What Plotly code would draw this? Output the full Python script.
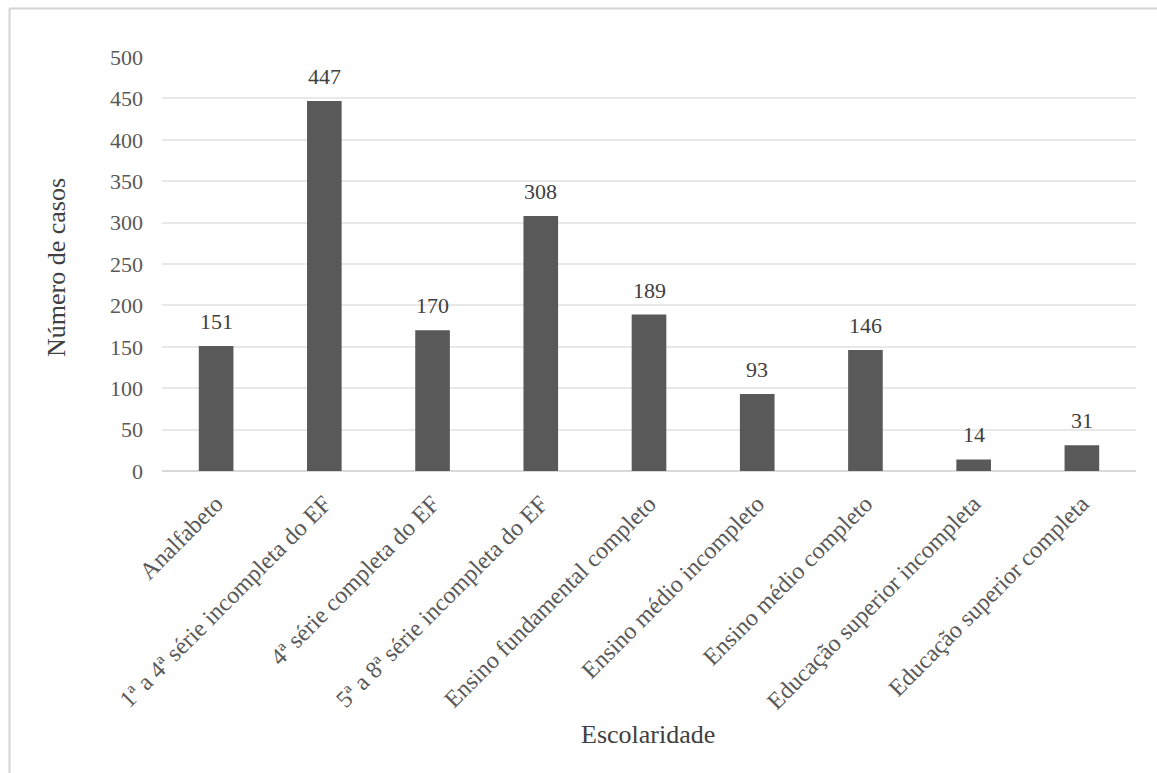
import plotly.graph_objects as go

# Escolaridade dos casos
categorias = [
    "Analfabeto",
    "1ª a 4ª série incompleta do EF",
    "4ª série completa do EF",
    "5ª a 8ª série incompleta do EF",
    "Ensino fundamental completo",
    "Ensino médio incompleto",
    "Ensino médio completo",
    "Educação superior incompleta",
    "Educação superior completa",
]
casos = [151, 447, 170, 308, 189, 93, 146, 14, 31]
y_ticks = [0, 50, 100, 150, 200, 250, 300, 350, 400, 450, 500]

W, H = 1157, 773
L, R, T, B = 162, 21, 57, 302
FONT = "Liberation Serif, Times New Roman, serif"

fig = go.Figure(
    go.Bar(
        x=categorias,
        y=casos,
        marker=dict(color="#595959", line=dict(width=0)),
        hoverinfo="x+y",
    )
)

# value labels above the bars
for c, v in zip(categorias, casos):
    fig.add_annotation(
        x=c, y=v, text=str(v), showarrow=False,
        yanchor="bottom", yshift=10,
        font=dict(family=FONT, size=22, color="#404040"),
    )

pw, ph = W - L - R, H - T - B
def px(xp):
    return (xp - L) / pw
def py(yp):
    return (H - B - yp) / ph

# axis titles
fig.add_annotation(
    xref="paper", yref="paper", x=px(56), y=py(268),
    text="Número de casos", textangle=-90, showarrow=False,
    xanchor="center", yanchor="middle",
    font=dict(family=FONT, size=26, color="#404040"),
)
fig.add_annotation(
    xref="paper", yref="paper", x=px(648), y=py(734),
    text="Escolaridade", showarrow=False,
    xanchor="center", yanchor="middle",
    font=dict(family=FONT, size=26, color="#404040"),
)

# frame around the chart (left and top edges)
fig.add_shape(type="line", xref="paper", yref="paper",
              x0=px(9.5), x1=px(W), y0=py(8.5), y1=py(8.5),
              line=dict(color="#d4d4d4", width=2))
fig.add_shape(type="line", xref="paper", yref="paper",
              x0=px(9.5), x1=px(9.5), y0=py(8.5), y1=py(H),
              line=dict(color="#d4d4d4", width=2))

fig.update_layout(
    width=W, height=H,
    margin=dict(l=L, r=R, t=T, b=B, autoexpand=False),
    paper_bgcolor="white", plot_bgcolor="white",
    bargap=0.68,
    showlegend=False,
    font=dict(family=FONT, color="#595959"),
    xaxis=dict(
        tickangle=-45,
        tickfont=dict(family=FONT, size=24, color="#595959"),
        showgrid=False, showline=False, ticks="",
        zeroline=False,
        ticklabelstandoff=13,
    ),
    yaxis=dict(
        range=[0, 500],
        tickvals=y_ticks,
        tickfont=dict(family=FONT, size=22, color="#595959"),
        showgrid=True, gridcolor="#e8e8e8", gridwidth=1.5,
        zeroline=True, zerolinecolor="#d9d9d9", zerolinewidth=2,
        showline=False, ticks="",
        ticklabelstandoff=18,
    ),
)

fig.write_html("out.html")
